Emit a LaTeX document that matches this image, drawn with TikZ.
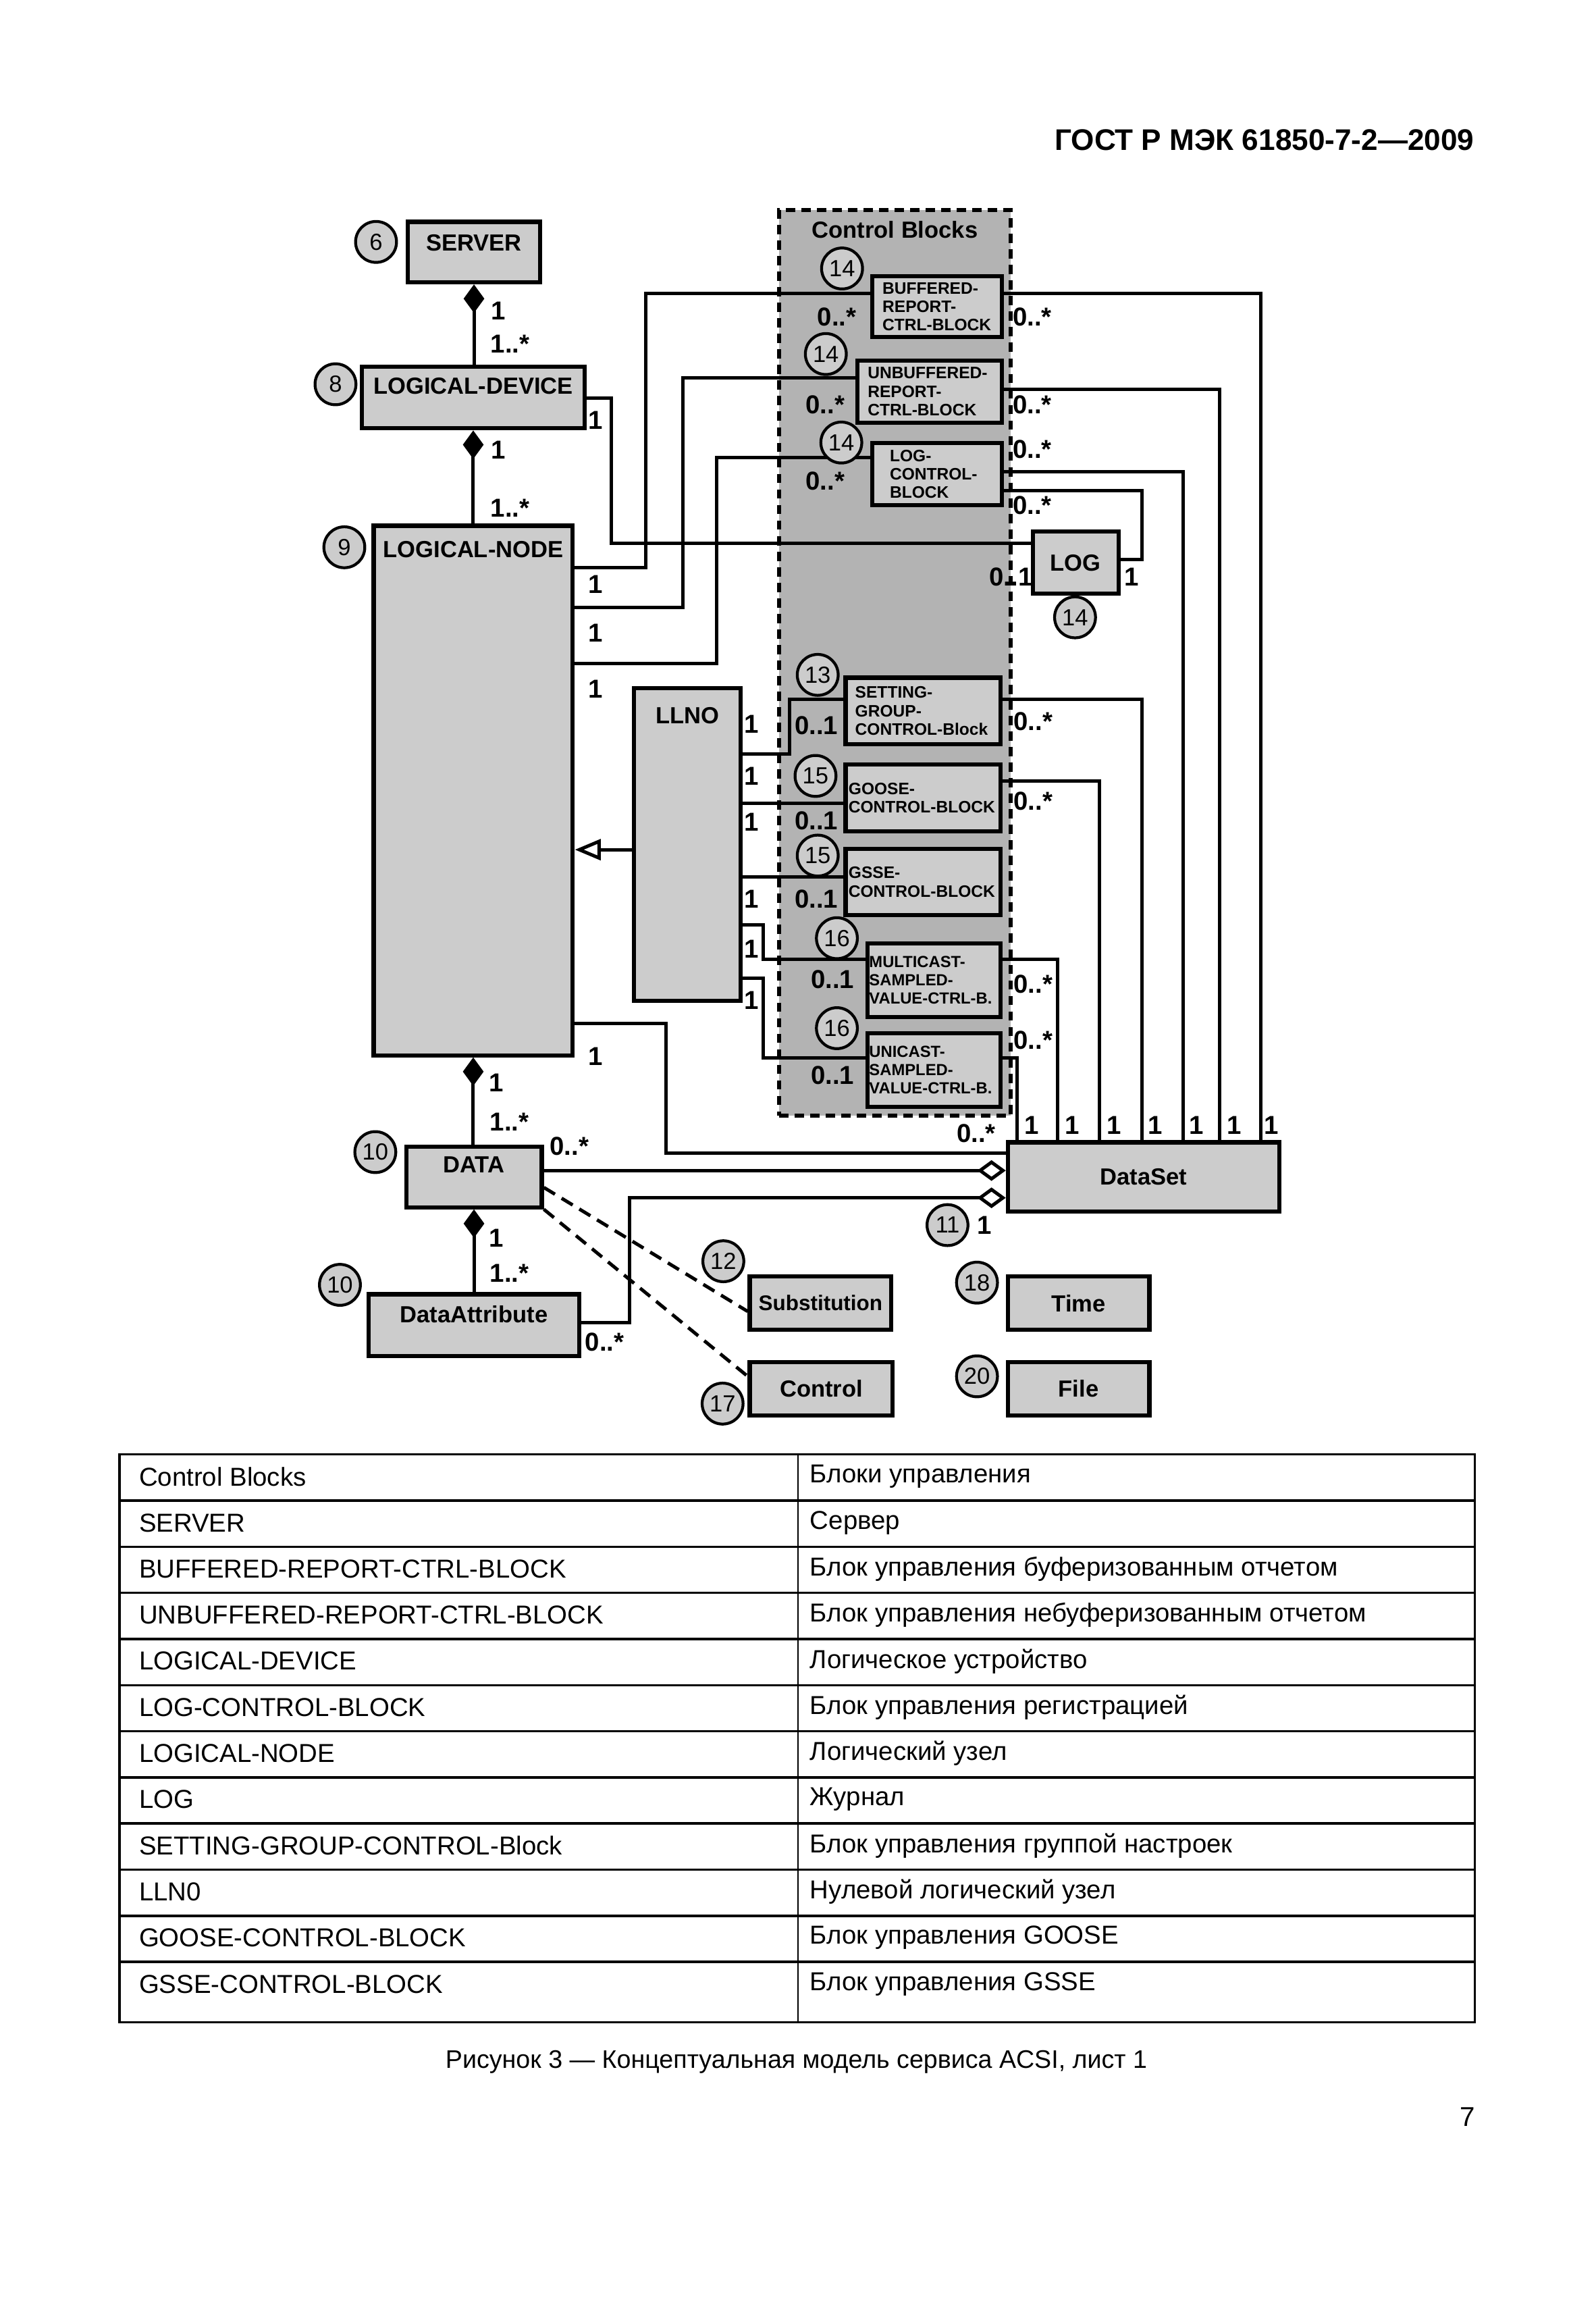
\documentclass[tikz,border=0pt]{standalone}
\usepackage{fontspec}
\setmainfont{Liberation Sans}
\usepackage{tikz}
\usetikzlibrary{arrows.meta}
\definecolor{boxgray}{RGB}{204,204,204}
\definecolor{cbgray}{RGB}{179,179,179}

\begin{document}
\begin{tikzpicture}[x=0.02cm,y=-0.02cm,
  cls/.style={draw=black,line width=1.6pt,fill=boxgray,inner sep=0pt,anchor=north west,font=\bfseries\fontsize{9}{10.8}\selectfont},
  sz/.style 2 args={minimum width=#1*0.02cm,minimum height=#2*0.02cm},
  ctitle/.style={anchor=north,inner sep=0pt,font=\bfseries\fontsize{9}{10.8}\selectfont},
  cb/.style={cls,align=left,font=\bfseries\fontsize{6.4}{7.1}\selectfont},
  cblock/.style={draw=black,line width=1.5pt,fill=cbgray,dash pattern=on 3.6pt off 2.4pt,inner sep=0pt,anchor=north west},
  wire/.style={draw=black,line width=1.3pt},
  comp/.style={wire,{Diamond[length=11pt,width=8pt]}-},
  agg/.style={wire,-{Diamond[open,length=11pt,width=8pt,fill=white]}},
  inh/.style={wire,-{Triangle[open,length=10pt,width=8pt,fill=white]}},
  dep/.style={wire,dash pattern=on 5pt off 3pt},
  num/.style={circle,draw=black,line width=1.1pt,fill=boxgray,minimum size=15.8pt,inner sep=0pt,font=\fontsize{9}{9}\selectfont},
  mul/.style={inner sep=0pt,font=\bfseries\fontsize{10}{10}\selectfont},
  tab/.style={anchor=west,inner sep=0pt,font=\fontsize{10}{12}\selectfont}]
\useasboundingbox (0,0) rectangle (1082,1568);
\fill[white] (0,0) rectangle (1082,1568);

\node[anchor=east,inner sep=0pt,font=\bfseries\fontsize{11.5}{12}\selectfont] (hdr) at (1000,95) {ГОСТ Р МЭК 61850-7-2—2009};

% control block area
\node[cblock,sz={157}{614},label={[ctitle,yshift=-5pt]north:Control Blocks}] (cblk) at (527,141) {};

% class hierarchy
\node[cls,sz={90}{41},label={[ctitle,yshift=-5.5pt]north:SERVER}] (srv) at (275,149) {};
\node[cls,sz={151}{42},label={[ctitle,yshift=-5pt]north:LOGICAL-DEVICE}] (ld) at (244,247) {};
\node[cls,sz={135}{359},label={[ctitle,yshift=-6.5pt]north:LOGICAL-NODE}] (ln) at (252,355) {};
\node[cls,sz={72.5}{212},label={[ctitle,yshift=-8pt]north:LLNO}] (llno) at (428.5,465) {};
\node[cls,sz={92}{41},label={[ctitle,yshift=-4.5pt]north:DATA}] (data) at (274,776) {};
\node[cls,sz={143}{42},label={[ctitle,yshift=-5pt]north:DataAttribute}] (da) at (248.5,876) {};

% control blocks
\node[cb,sz={88}{41},inner xsep=0.14cm,text width=1.48cm] (brcb) at (590,186) {BUFFERED-\\REPORT-\\CTRL-BLOCK};
\node[cb,sz={98}{42},inner xsep=0.14cm,text width=1.68cm] (urcb) at (580,243) {UNBUFFERED-\\REPORT-\\CTRL-BLOCK};
\node[cb,sz={88}{42},inner xsep=0.24cm,text width=1.28cm] (lcb) at (590,299) {LOG-\\CONTROL-\\BLOCK};
\node[cb,sz={105}{45},inner xsep=0.13cm,text width=1.84cm] (sgcb) at (572,458) {SETTING-\\GROUP-\\CONTROL-Block};
\node[cb,sz={105}{45},inner xsep=0.04cm,text width=2.02cm] (gocb) at (572,517) {GOOSE-\\CONTROL-BLOCK};
\node[cb,sz={105}{45},inner xsep=0.04cm,text width=2.02cm] (gscb) at (572,574) {GSSE-\\CONTROL-BLOCK};
\node[cb,sz={90}{50},inner xsep=0.02cm,text width=1.76cm,font=\bfseries\fontsize{6.2}{7.1}\selectfont] (msvcb) at (587,638) {MULTICAST-\\SAMPLED-\\\mbox{VALUE-CTRL-B.}};
\node[cb,sz={90}{50},inner xsep=0.02cm,text width=1.76cm,font=\bfseries\fontsize{6.2}{7.1}\selectfont] (usvcb) at (587,699) {UNICAST-\\SAMPLED-\\\mbox{VALUE-CTRL-B.}};

% other classes
\node[cls,sz={58}{42}] (log) at (699,359) {LOG};
\node[cls,sz={184}{47}] (dset) at (682,773) {DataSet};
\node[cls,sz={96}{36},font=\bfseries\fontsize{8.2}{10}\selectfont] (subst) at (507,864) {Substitution};
\node[cls,sz={97}{36}] (ctrl) at (507,922) {Control};
\node[cls,sz={96}{36}] (time) at (682,864) {Time};
\node[cls,sz={96}{36}] (file) at (682,922) {File};

% composition
\draw[comp] (srv.south) -- (srv.south |- ld.north);
\draw[comp] (ld.south) -- (ld.south |- ln.north);
\draw[comp] (ln.south) -- (ln.south |- data.north);
\draw[comp] (data.south) -- (data.south |- da.north);

% logical device / logical node links
\draw[wire] (ld.east |- 0,270) -| (414.5,368.5) -- (log.west |- 0,368.5);
\draw[wire] (ln.east |- 0,385) -| (438,199) -- (brcb.west |- 0,199);
\draw[wire] (ln.east |- 0,412) -| (463,256) -- (urcb.west |- 0,256);
\draw[wire] (ln.east |- 0,450) -| (486,310) -- (lcb.west |- 0,310);
\draw[wire] (ln.east |- 0,694) -| (451.5,781.5) -- (dset.west |- 0,781.5);
\draw[inh] (llno.west |- 0,576) -- (ln.east |- 0,576);

% LLNO links
\draw[wire] (llno.east |- 0,511) -| (535.5,474) -- (sgcb.west |- 0,474);
\draw[wire] (llno.east |- 0,544.5) -- (gocb.west |- 0,544.5);
\draw[wire] (llno.east |- 0,594.5) -- (gscb.west |- 0,594.5);
\draw[wire] (llno.east |- 0,627) -| (517.5,650.5) -- (msvcb.west |- 0,650.5);
\draw[wire] (llno.east |- 0,663) -| (517.5,717) -- (usvcb.west |- 0,717);

% links to DataSet and LOG
\draw[wire] (brcb.east |- 0,199) -| (dset.north -| 855,0);
\draw[wire] (urcb.east |- 0,264) -| (dset.north -| 827,0);
\draw[wire] (lcb.east |- 0,320) -| (dset.north -| 802.5,0);
\draw[wire] (lcb.east |- 0,332.5) -| (774.5,379.5) -- (log.east |- 0,379.5);
\draw[wire] (sgcb.east |- 0,474) -| (dset.north -| 774.5,0);
\draw[wire] (gocb.east |- 0,529.5) -| (dset.north -| 745.5,0);
\draw[wire] (msvcb.east |- 0,650.5) -| (dset.north -| 717,0);
\draw[wire] (usvcb.east |- 0,717) -| (dset.north -| 689.5,0);

% data members
\draw[agg] (data.east |- 0,793.5) -- (dset.west |- 0,793.5);
\draw[agg] (da.east |- 0,896.5) -| (427,812) -- (dset.west |- 0,812);
\draw[dep] (data.east |- 0,805) -- (subst.west |- 0,889);
\draw[dep] (data.south east) -- (ctrl.west |- 0,933);

% clause numbers
\foreach \n/\x/\y [count=\i] in {6/255/164, 8/227.5/260.5, 9/233.5/371, 14/571/182, 14/560/240,
    14/570.5/300, 14/729/418.5, 13/554.5/457.5, 15/553/526, 15/554.5/580, 16/567.5/636,
    16/567.5/697, 10/254.5/781, 10/230.5/871, 11/642.5/830.5, 12/490.5/855, 17/490/951.5,
    18/662.5/869.5, 20/662.5/933}
  \node[num] (c\i) at (\x,\y) {\n};

% multiplicities
\foreach \x/\y/\t [count=\i] in {338/210.5/{1}, 346/233/{1..*}, 338/305/{1}, 346/344.5/{1..*},
    404/285/{1}, 404/396/{1}, 404/429/{1}, 404/467/{1}, 404/716/{1},
    336.5/734/{1}, 345.5/760.5/{1..*}, 386/777/{0..*}, 336.5/839.5/{1}, 345.5/863/{1..*},
    410/910/{0..*}, 567.5/215/{0..*}, 559.5/274.5/{0..*}, 559.5/326/{0..*},
    700/215/{0..*}, 700/274.5/{0..*}, 700/304.5/{0..*}, 700/342.5/{0..*},
    685.5/391/{0..1}, 767.5/391/{1},
    509.5/491/{1}, 553.5/492/{0..1}, 509.5/526/{1}, 509.5/557.5/{1}, 553.5/556.5/{0..1},
    509.5/609.5/{1}, 553.5/609.5/{0..1}, 509.5/643.5/{1}, 564.5/664/{0..1},
    509.5/678/{1}, 564.5/729/{0..1},
    700.5/489/{0..*}, 700.5/543/{0..*}, 700.5/667/{0..*}, 700.5/705/{0..*}, 662/768.5/{0..*},
    699.5/763/{1}, 727/763/{1}, 755.5/763/{1}, 783.5/763/{1}, 811.5/763/{1}, 837/763/{1},
    862/763/{1}, 667.5/830.5/{1}}
  \node[mul] (m\i) at (\x,\y) {\t};

% legend table
\draw[line width=0.9pt] (81,986) rectangle (1000,1371);
\foreach \i in {1,...,11}
  \draw[line width=0.9pt] (81,{986+31.27*\i}) -- (1000,{986+31.27*\i});
\draw[line width=0.5pt] (541,986) -- (541,1371);
\foreach \en/\ru [count=\i] in {Control Blocks/Блоки управления, SERVER/Сервер,
    BUFFERED-REPORT-CTRL-BLOCK/Блок управления буферизованным отчетом,
    UNBUFFERED-REPORT-CTRL-BLOCK/Блок управления небуферизованным отчетом,
    LOGICAL-DEVICE/Логическое устройство, LOG-CONTROL-BLOCK/Блок управления регистрацией,
    LOGICAL-NODE/Логический узел, LOG/Журнал,
    SETTING-GROUP-CONTROL-Block/Блок управления группой настроек,
    LLN0/Нулевой логический узел, GOOSE-CONTROL-BLOCK/Блок управления GOOSE,
    GSSE-CONTROL-BLOCK/Блок управления GSSE}
{
  \node[tab] (tl\i) at (94,{986+31.27*(\i-1)+15}) {\en};
  \node[tab] (tr\i) at (549,{986+31.27*(\i-1)+15}) {\ru};
}

\node[inner sep=0pt,font=\fontsize{9.8}{12}\selectfont] (cap) at (540,1398) {Рисунок 3 — Концептуальная модель сервиса ACSI, лист 1};
\node[inner sep=0pt,font=\fontsize{10.5}{12}\selectfont] (pg) at (995,1435) {7};
\end{tikzpicture}
\end{document}
